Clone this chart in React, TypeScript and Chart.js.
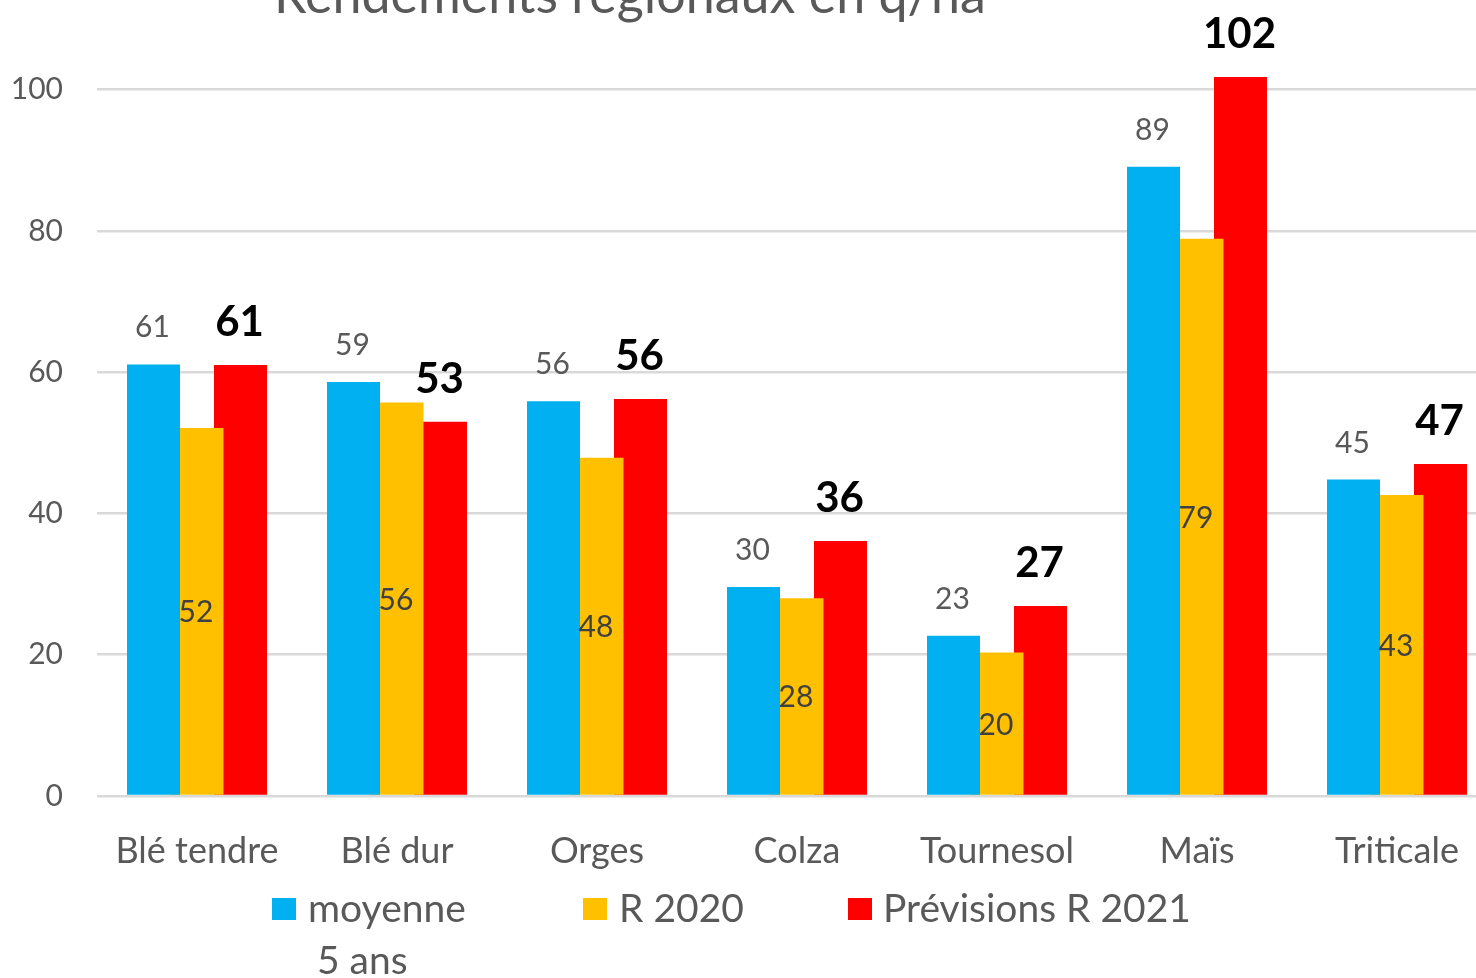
import React, { useEffect, useRef } from "react";
import { Chart, registerables } from "chart.js";

Chart.register(...registerables);

const titleText = "Rendements régionaux en q/ha";
const categories = ["Blé tendre", "Blé dur", "Orges", "Colza", "Tournesol", "Maïs", "Triticale"];
const moyenne5Ans = [61.1, 58.6, 55.9, 29.6, 22.7, 89.1, 44.8];
const r2020 = [52.1, 55.7, 47.9, 28.0, 20.3, 78.9, 42.6];
const previsionsR2021 = [61.0, 53.0, 56.2, 36.1, 26.9, 101.8, 47.0];
const seriesLabels = ["moyenne 5 ans", "R 2020", "Prévisions R 2021"];
const legendLines = [["moyenne", "5 ans"], ["R 2020"], ["Prévisions R 2021"]];
const yMin = 0;
const yMax = 110;
const yStep = 20;
const yLastTick = 100;

const COLORS = ["#00B0F0", "#FFC000", "#FF0000"];
const GRAY = "#595959";
const FONT = "Lato, 'Open Sans', sans-serif";

const titlePlugin = {
  id: "titleText",
  afterDraw(chart: any) {
    const ctx = chart.ctx;
    ctx.save();
    ctx.font = `400 52px ${FONT}`;
    ctx.fillStyle = GRAY;
    ctx.textAlign = "center";
    ctx.textBaseline = "alphabetic";
    ctx.fillText(titleText, 630, 13);
    ctx.restore();
  },
};

const dataLabelPlugin = {
  id: "dataLabels",
  afterDatasetsDraw(chart: any) {
    const ctx = chart.ctx;
    ctx.save();
    ctx.textAlign = "center";
    ctx.textBaseline = "alphabetic";
    chart.data.datasets.forEach((ds: any, di: number) => {
      const meta = chart.getDatasetMeta(di);
      meta.data.forEach((el: any, i: number) => {
        const txt = String(Math.round(ds.data[i]));
        if (di === 0) {
          ctx.font = `400 30px ${FONT}`;
          ctx.fillStyle = GRAY;
          ctx.fillText(txt, el.x - 1, el.y - 27);
        } else if (di === 1) {
          ctx.font = `400 30px ${FONT}`;
          ctx.fillStyle = "#404040";
          ctx.fillText(txt, el.x - 1, (el.y + el.base) / 2 + 11);
        } else {
          ctx.font = `700 42px ${FONT}`;
          ctx.fillStyle = "#000000";
          ctx.fillText(txt, el.x - 1, el.y - 29);
        }
      });
    });
    ctx.restore();
  },
};

const legendPlugin = {
  id: "customLegend",
  afterDraw(chart: any) {
    const ctx = chart.ctx;
    const xs = [272, 583, 848];
    const textXs = [308, 619, 883];
    ctx.save();
    ctx.font = `400 39px ${FONT}`;
    ctx.textAlign = "left";
    ctx.textBaseline = "alphabetic";
    legendLines.forEach((lines, i) => {
      ctx.fillStyle = COLORS[i];
      ctx.fillRect(xs[i], 898, 24, 22);
      ctx.fillStyle = GRAY;
      lines.forEach((line, li) => {
        ctx.fillText(line, textXs[i] + (li > 0 ? 9 : 0), 922 + li * 52);
      });
    });
    ctx.restore();
  },
};

export default function App() {
  const ref = useRef<HTMLCanvasElement | null>(null);
  useEffect(() => {
    if (!ref.current) return;
    const series = [moyenne5Ans, r2020, previsionsR2021];
    const chart = new Chart(ref.current, {
      type: "bar",
      data: {
        labels: categories,
        datasets: series.map((d, i) => ({
          label: seriesLabels[i],
          data: d,
          backgroundColor: COLORS[i],
          borderWidth: 0,
          categoryPercentage: 0.6525,
          barPercentage: 53 / 43.5,
        })),
      },
      options: {
        animation: false,
        responsive: false,
        maintainAspectRatio: false,
        layout: { padding: { top: 19, right: 13, left: 0, bottom: 0 } },
        plugins: {
          legend: { display: false },
          title: { display: false },
          tooltip: { enabled: false },
        },
        scales: {
          x: {
            grid: { display: false },
            border: { display: false },
            ticks: { color: GRAY, font: { family: FONT, size: 36 }, padding: 26, maxRotation: 0, autoSkip: false },
            afterFit(scale: any) {
              scale.height = 182;
            },
          },
          y: {
            min: yMin,
            max: yMax,
            bounds: "data",
            grid: { color: "#D9D9D9", lineWidth: 2.5, drawTicks: true, tickLength: 34, tickColor: "rgba(0,0,0,0)" },
            border: { display: false },
            ticks: { stepSize: yStep, color: GRAY, font: { family: FONT, size: 30 }, padding: 0 },
            afterBuildTicks(scale: any) {
              scale.ticks = scale.ticks.filter((t: any) => t.value <= yLastTick);
            },
            afterFit(scale: any) {
              scale.width = 97;
            },
          },
        },
      },
      plugins: [dataLabelPlugin, titlePlugin, legendPlugin],
    } as any);
    return () => chart.destroy();
  }, []);
  return (
    <div style={{ position: "fixed", left: 0, top: 0, width: 1476, height: 978, overflow: "hidden", background: "#fff" }}>
      <canvas ref={ref} width={1510} height={978} style={{ display: "block" }} />
    </div>
  );
}
